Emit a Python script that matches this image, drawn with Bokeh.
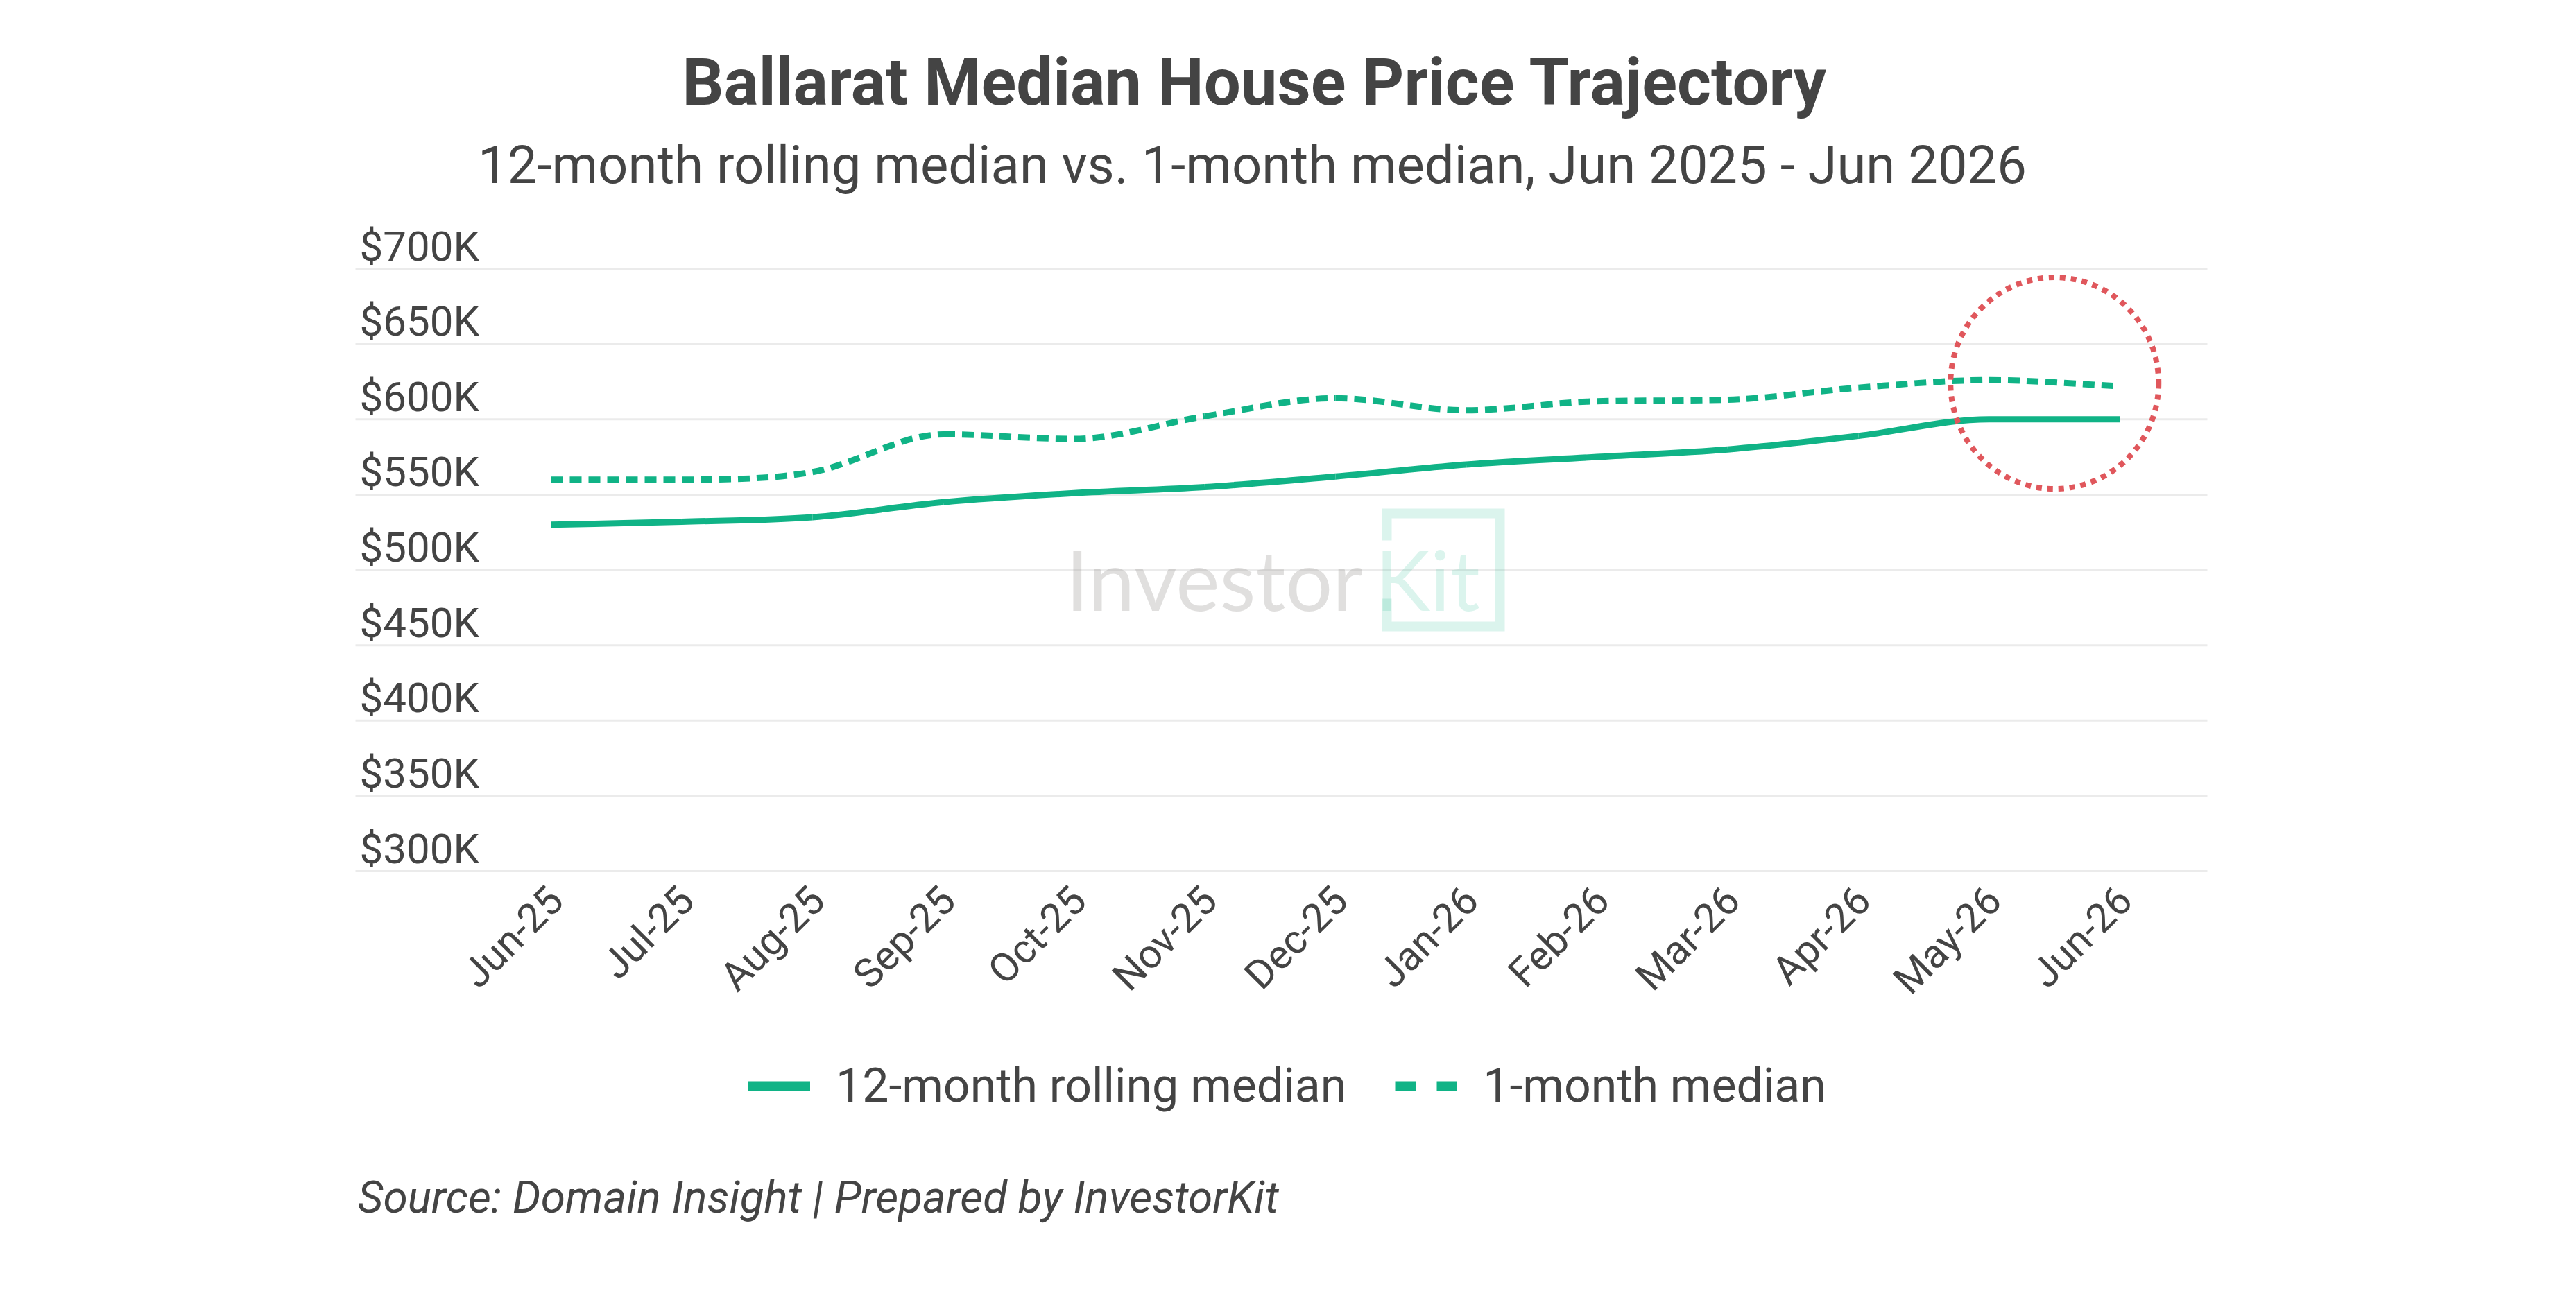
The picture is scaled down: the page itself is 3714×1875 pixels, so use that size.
import math

from bokeh.plotting import figure
from bokeh.models import Range1d, Legend, LegendItem, ColumnDataSource
from bokeh.core.properties import value
from bokeh.embed import file_html
from bokeh.resources import INLINE


months = ["Jun-25", "Jul-25", "Aug-25", "Sep-25", "Oct-25", "Nov-25", "Dec-25",
          "Jan-26", "Feb-26", "Mar-26", "Apr-26", "May-26", "Jun-26"]
rolling_median = [530000, 532000, 535000, 545000, 551000, 555000, 562000,
                  570000, 575000, 580000, 589000, 600000, 600000]
monthly_median = [560000, 560000, 565000, 590000, 587000, 602000, 614000,
                  606000, 612000, 613000, 621000, 626000, 622000]
y_ticks = [300000, 350000, 400000, 450000, 500000, 550000, 600000, 650000, 700000]
y_tick_labels = ["$300K", "$350K", "$400K", "$450K", "$500K",
                 "$550K", "$600K", "$650K", "$700K"]
highlight_months = ["May-26", "Jun-26"]

TITLE = "Ballarat Median House Price Trajectory"
SUBTITLE = "12-month rolling median vs. 1-month median, Jun 2025 - Jun 2026"
SOURCE = "Source: Domain Insight | Prepared by InvestorKit"
SERIES_NAMES = ["12-month rolling median", "1-month median"]

GREEN = "#10b386"
RED = "#e0575c"
TEXT = "#444444"
GRID = "#ebebeb"

# page layout, in px from the figure's top-left corner
W, H = 3698, 1859
PLOT_L, PLOT_R = 512, 3182     # horizontal extent of the grid
X0 = 794                       # first month
STEP = 188.5                   # px between months
Y_TOP = 387                    # top grid line
PLOT_H = 869                   # top grid line to bottom grid line
BASE_FIX = 0.24                # svg baseline correction, in em

y_lo_tick, y_hi_tick = y_ticks[0], y_ticks[-1]
per_px = (y_hi_tick - y_lo_tick) / PLOT_H


def px_x(X):
    return (X - X0) / STEP


def px_y(Y):
    return y_hi_tick - (Y - Y_TOP) * per_px


def monotone_slopes(y):
    n = len(y)
    d = [y[i + 1] - y[i] for i in range(n - 1)]
    m = [0.0] * n
    m[0], m[-1] = d[0], d[-1]
    for i in range(1, n - 1):
        m[i] = 0.0 if d[i - 1] * d[i] <= 0 else (d[i - 1] + d[i]) / 2
    for i in range(n - 1):
        if d[i] == 0:
            m[i] = m[i + 1] = 0.0
            continue
        a, b = m[i] / d[i], m[i + 1] / d[i]
        s = a * a + b * b
        if s > 9:
            t = 3 / math.sqrt(s)
            m[i], m[i + 1] = t * a * d[i], t * b * d[i]
    return m


def curve_source(y):
    m = monotone_slopes(y)
    xs = list(range(len(y)))
    k = len(y) - 1
    return ColumnDataSource(dict(
        x0=xs[:-1], y0=y[:-1], x1=xs[1:], y1=y[1:],
        cx0=[xs[i] + 1 / 3 for i in range(k)], cy0=[y[i] + m[i] / 3 for i in range(k)],
        cx1=[xs[i + 1] - 1 / 3 for i in range(k)], cy1=[y[i + 1] - m[i + 1] / 3 for i in range(k)],
    ))


def label(X, Y, txt, size, align="left", style="normal", font="Roboto",
          color=TEXT, alpha=1.0):
    # Y is the wanted baseline in figure px
    p.text(x=[px_x(X)], y=[px_y(Y - BASE_FIX * size)], text=[txt],
           text_font=value(font), text_font_style=style,
           text_font_size=value(f"{size}px"), text_color=color, text_alpha=alpha,
           text_align=align, text_baseline="alphabetic")


p = figure(width=W, height=H, output_backend="svg", toolbar_location=None,
           x_range=Range1d(px_x(0), px_x(W)), y_range=Range1d(px_y(H), px_y(0)),
           x_axis_location=None, y_axis_location=None, min_border=0,
           background_fill_color="white", border_fill_color="white")
p.outline_line_color = None
p.xgrid.visible = False
p.ygrid.visible = False

# horizontal grid lines
p.segment(x0=[px_x(PLOT_L)] * len(y_ticks), x1=[px_x(PLOT_R)] * len(y_ticks),
          y0=y_ticks, y1=y_ticks, line_color=GRID, line_width=3)

# y tick labels sit above their grid lines
p.text(x=[px_x(PLOT_L + 6)] * len(y_ticks),
       y=[t + (18 + BASE_FIX * 60) * per_px for t in y_ticks],
       text=y_tick_labels, text_font=value("Roboto"), text_font_size=value("60px"),
       text_color=TEXT, text_align="left", text_baseline="alphabetic")

# x tick labels, rotated
p.text(x=[i + 7 / STEP for i in range(len(months))], y=[px_y(1288)] * len(months),
       text=months, angle=math.pi / 4, text_font=value("Roboto"),
       text_font_size=value("58px"), text_color=TEXT, text_align="right",
       text_baseline="middle")

# watermark
label(1536, 863, "Investor", 120, font="Lato", color="#a09c99", alpha=0.32)
label(1982, 863, "Kit", 120, font="Lato", color=GREEN, alpha=0.15)
p.line(x=[px_x(1999), px_x(1999), px_x(2162), px_x(2162), px_x(1999), px_x(1999)],
       y=[px_y(779), px_y(740), px_y(740), px_y(903), px_y(903), px_y(863)],
       line_color=GREEN, line_alpha=0.15, line_width=14, line_join="miter")

# series
r_roll = p.bezier(x0="x0", y0="y0", x1="x1", y1="y1", cx0="cx0", cy0="cy0",
                  cx1="cx1", cy1="cy1", source=curve_source(rolling_median),
                  line_color=GREEN, line_width=9)
r_month = p.bezier(x0="x0", y0="y0", x1="x1", y1="y1", cx0="cx0", cy0="cy0",
                   cx1="cx1", cy1="cy1", source=curve_source(monthly_median),
                   line_color=GREEN, line_width=9, line_dash="17 10")

# highlight ring around the latest months
hi_idx = [months.index(m) for m in highlight_months]
hi_x = sum(hi_idx) / len(hi_idx)
hi_y = sum(monthly_median[i] for i in hi_idx) / len(hi_idx)
p.ellipse(x=[hi_x], y=[hi_y], width=300, height=305, width_units="screen",
          height_units="screen", fill_color=None, line_color=RED, line_width=8,
          line_dash="8 8")

# titles and source
label(1809, 141, TITLE, 94, align="center", style="bold")
label(1805, 256, SUBTITLE, 76, align="center")
label(PLOT_L + 3, 1742, SOURCE, 64, style="italic")

# legend: swatches are thicker than the plotted lines, so use hidden twins
idx = list(range(len(months)))
r_solid = p.line(x=idx, y=rolling_median, line_color=GREEN, line_width=15, visible=False)
r_dash = p.line(x=idx, y=monthly_median, line_color=GREEN, line_width=15,
                line_dash="30 30", visible=False)
legend = Legend(items=[LegendItem(label=SERIES_NAMES[0], renderers=[r_solid]),
                       LegendItem(label=SERIES_NAMES[1], renderers=[r_dash])],
                orientation="horizontal", location=(1078, 253),
                label_text_font="Roboto", label_text_font_size="68px",
                label_text_color=TEXT, glyph_width=90, glyph_height=15,
                label_standoff=37, spacing=70, padding=0, margin=0,
                border_line_color=None, background_fill_alpha=0,
                inactive_fill_alpha=0)
p.add_layout(legend)

open("out.html", "w").write(file_html(p, INLINE))
